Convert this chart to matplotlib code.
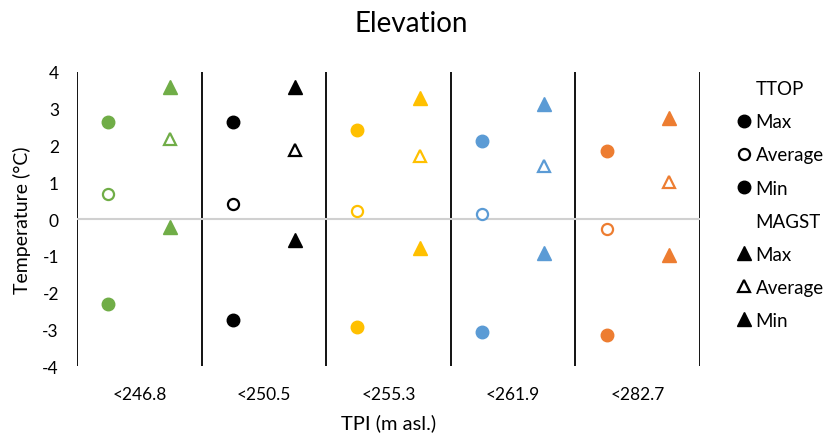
import numpy as np
import matplotlib.pyplot as plt
from matplotlib.lines import Line2D

plt.rcParams['font.family'] = ['Lato', 'DejaVu Sans']
plt.rcParams['axes.unicode_minus'] = False

# Datos
categorias = ['<246.8', '<250.5', '<255.3', '<261.9', '<282.7']
colores = ['#70AD47', '#000000', '#FFC000', '#5B9BD5', '#ED7D31']

ttop_max = [2.65, 2.65, 2.43, 2.13, 1.85]
ttop_avg = [0.68, 0.41, 0.23, 0.14, -0.27]
ttop_min = [-2.30, -2.73, -2.94, -3.07, -3.15]

magst_max = [3.60, 3.59, 3.29, 3.12, 2.74]
magst_avg = [2.18, 1.88, 1.70, 1.43, 1.02]
magst_min = [-0.22, -0.58, -0.79, -0.91, -0.98]

fig = plt.figure(figsize=(8.23, 4.35), dpi=100)
ax = fig.add_axes([0.0936, 0.1556, 0.757, 0.677])

ms = 9
ew = 1.6
for i, c in enumerate(colores):
    xc = i + 0.25
    xt = i + 0.75
    ax.plot([xc, xc], [ttop_max[i], ttop_min[i]], 'o', ls='none', color=c, ms=ms)
    ax.plot(xc, ttop_avg[i], 'o', color=c, mfc='white', mec=c, mew=ew, ms=ms - 1)
    ax.plot([xt, xt], [magst_max[i], magst_min[i]], '^', ls='none', color=c, ms=ms + 1)
    ax.plot(xt, magst_avg[i], '^', color=c, mfc='white', mec=c, mew=ew, ms=ms)

# lineas divisorias y linea del cero
for i in range(len(categorias) + 1):
    ax.axvline(i, color='black', lw=1.3, zorder=0)
ax.axhline(0, color='#D0D0D0', lw=1.5, zorder=0)

ax.set_xlim(0, len(categorias))
ax.set_ylim(-4, 4)
ax.set_yticks(np.arange(-4, 5, 1))
ax.set_xticks(np.arange(len(categorias)) + 0.5)
ax.set_xticklabels(categorias)
ax.tick_params(length=0, labelsize=12.5)
ax.tick_params(axis='x', pad=14)
ax.tick_params(axis='y', pad=13)
for s in ax.spines.values():
    s.set_visible(False)

ax.set_ylabel('Temperature (°C)', fontsize=14, labelpad=8)
ax.set_xlabel('TPI (m asl.)', fontsize=14.5, labelpad=8)
fig.suptitle('Elevation', fontsize=20, x=0.5, y=0.975)

# leyenda
blank = Line2D([], [], ls='none', marker='')
handles = [
    blank,
    Line2D([], [], ls='none', marker='o', color='black', ms=ms),
    Line2D([], [], ls='none', marker='o', mfc='white', mec='black', mew=ew, ms=ms - 1),
    Line2D([], [], ls='none', marker='o', color='black', ms=ms),
    blank,
    Line2D([], [], ls='none', marker='^', color='black', ms=ms + 1),
    Line2D([], [], ls='none', marker='^', mfc='white', mec='black', mew=ew, ms=ms),
    Line2D([], [], ls='none', marker='^', color='black', ms=ms + 1),
]
labels = ['TTOP', 'Max', 'Average', 'Min', 'MAGST', 'Max', 'Average', 'Min']
fig.legend(handles, labels, loc='upper left', bbox_to_anchor=(0.885, 0.835),
           frameon=False, fontsize=13.5, handlelength=0.7, handletextpad=0.25,
           labelspacing=0.86, borderpad=0)

fig.savefig('out.png', dpi=100)
